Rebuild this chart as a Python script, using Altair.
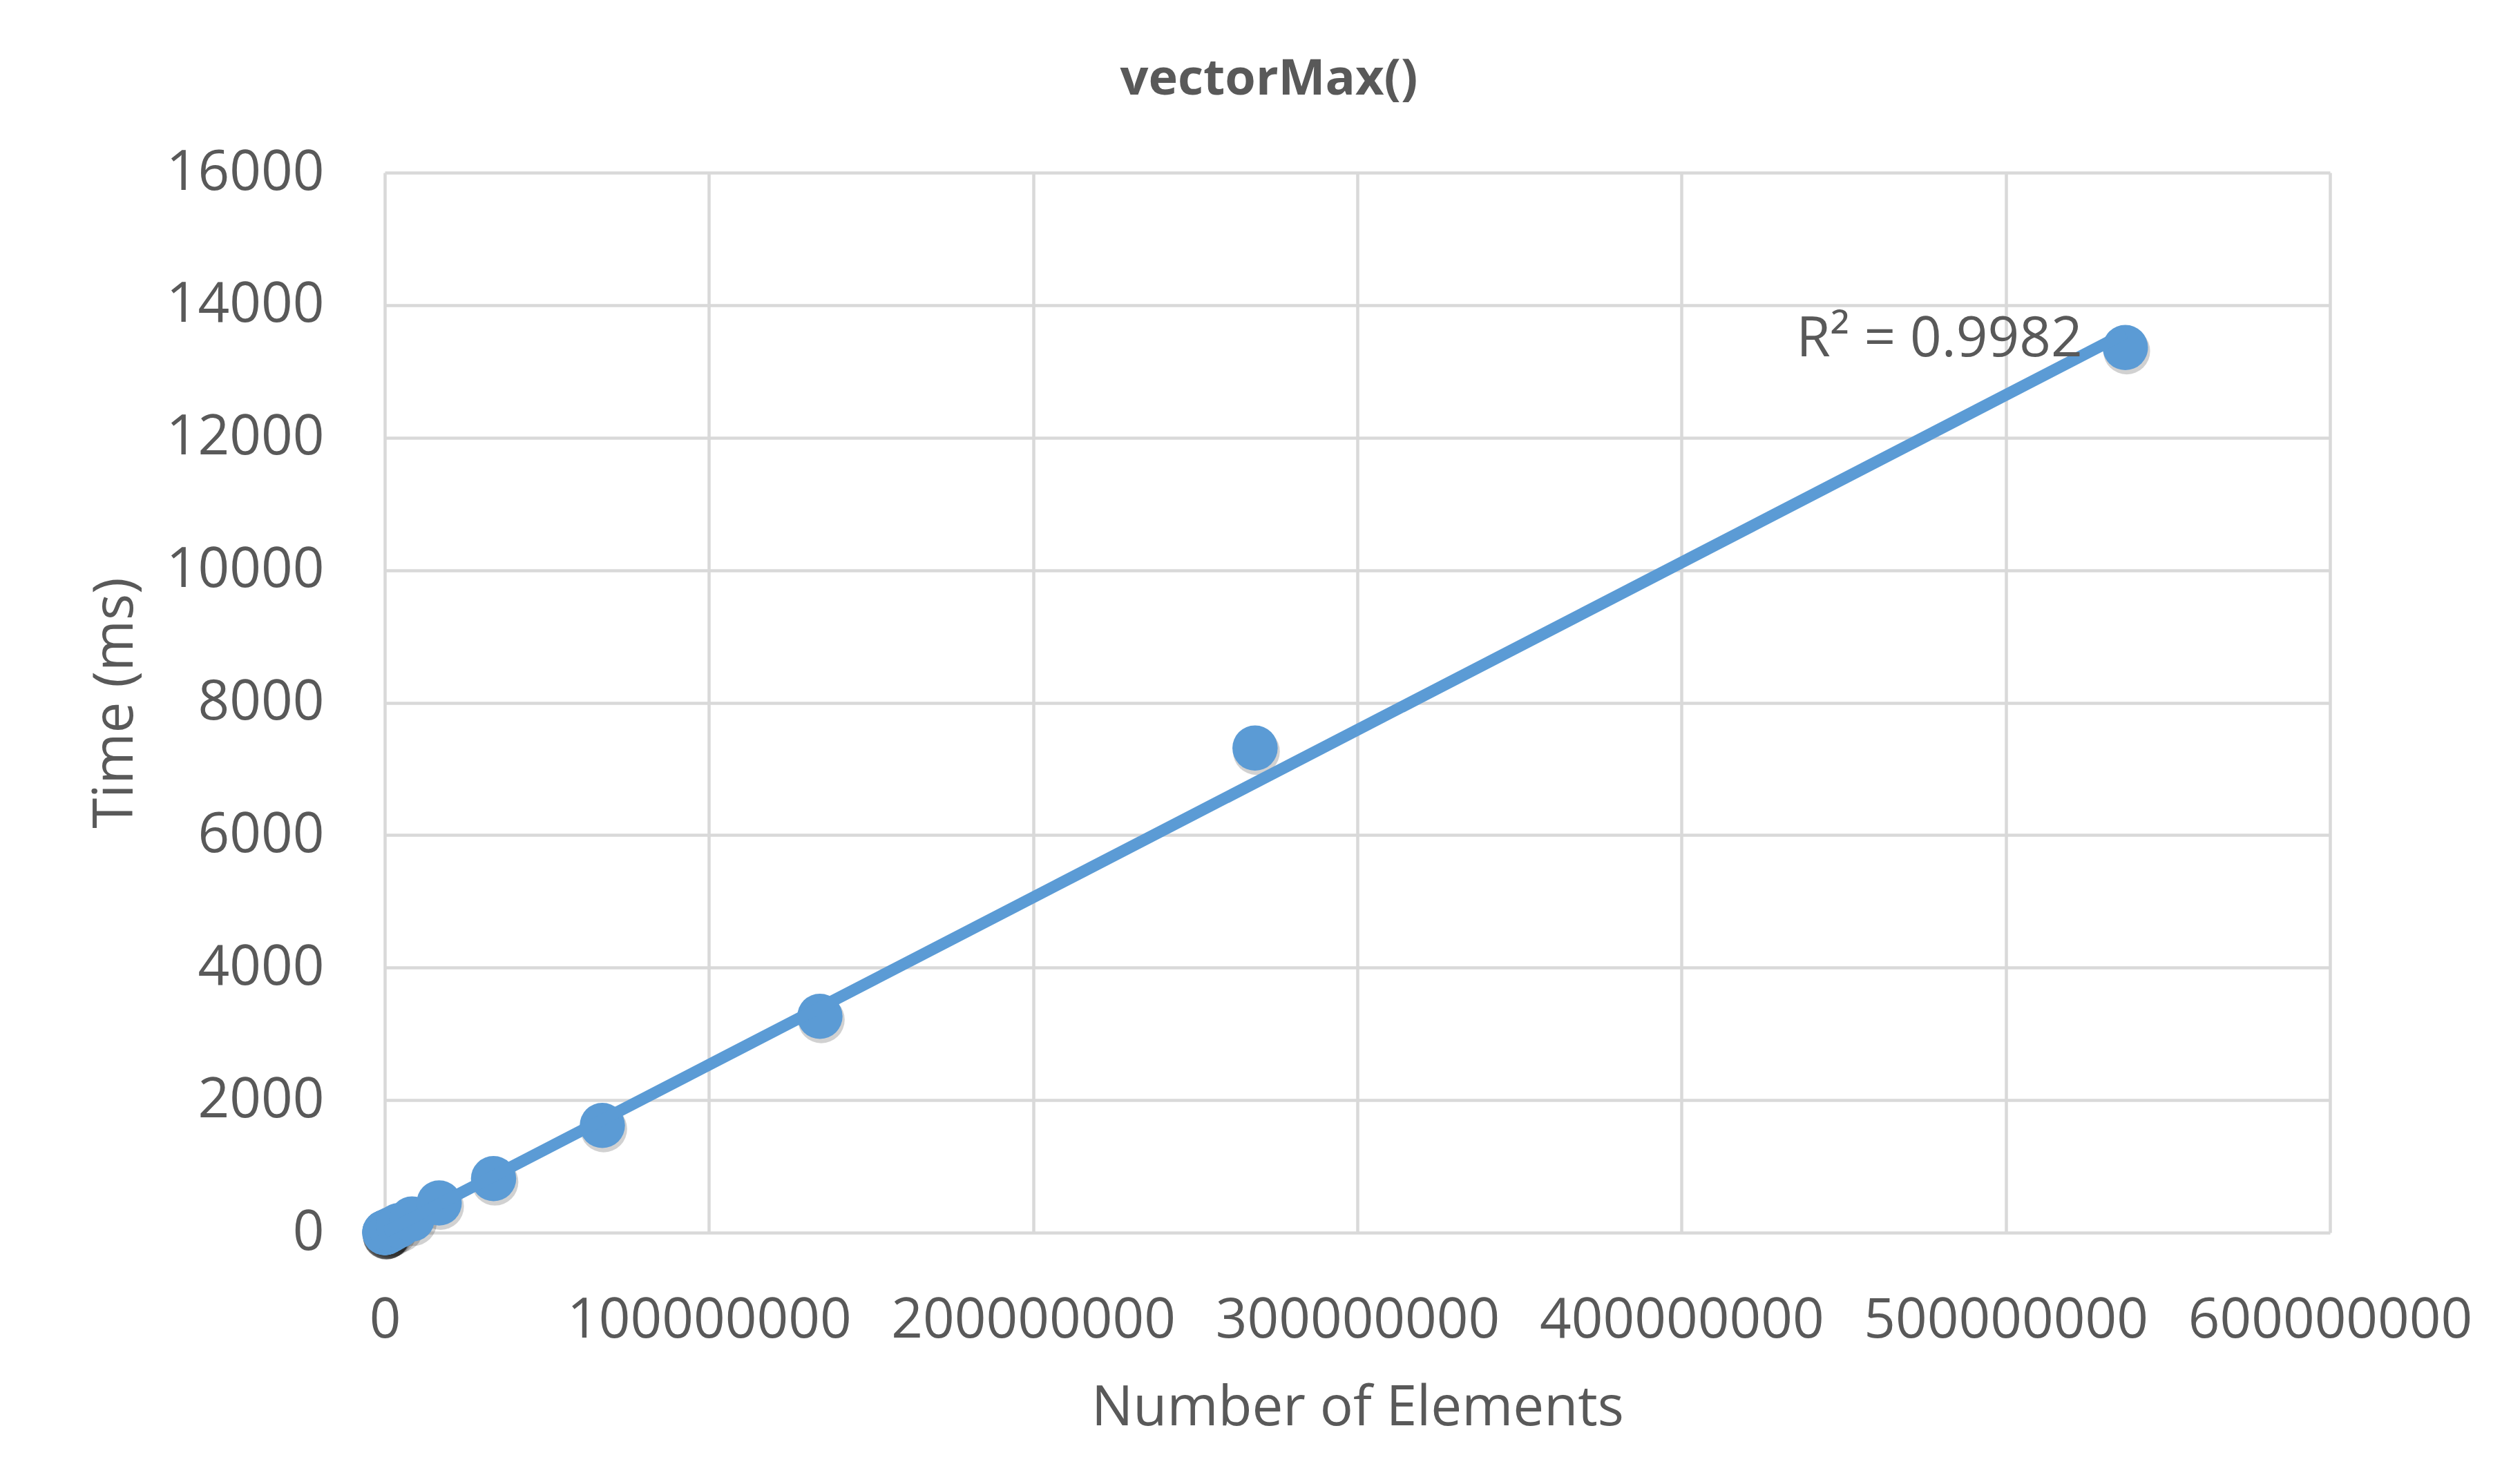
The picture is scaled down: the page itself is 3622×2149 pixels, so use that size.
import altair as alt
import pandas as pd

# Data (estimated)
elements = [16384, 32768, 65536, 131072, 262144, 524288, 1048576, 2097152,
            4194304, 8388608, 16777216, 33554432, 67108864, 134217728,
            268435456, 536870912]
time_ms = [0, 1, 2, 3, 7, 13, 26, 52, 105, 205, 448, 815, 1618, 3265, 7315, 13360]

chart_title = "vectorMax()"
x_title = "Number of Elements"
y_title = "Time (ms)"
r2_label = "R² = 0.9982"
x_ticks = [0, 100000000, 200000000, 300000000, 400000000, 500000000, 600000000]
y_ticks = [0, 2000, 4000, 6000, 8000, 10000, 12000, 14000, 16000]

df = pd.DataFrame({"n": elements, "t": time_ms})
last = df.iloc[[-1]].assign(label=r2_label)

FONT = "Open Sans"
GRAY = "#595959"
BLUE = "#5B9BD5"

x_enc = alt.X("n:Q", title=x_title,
              scale=alt.Scale(domain=[0, 600000000], nice=False),
              axis=alt.Axis(values=x_ticks, format="d", labelPadding=88, titleY=278,
                            titleBaseline="alphabetic"))
y_enc = alt.Y("t:Q", title=y_title,
              scale=alt.Scale(domain=[0, 16000], nice=False),
              axis=alt.Axis(values=y_ticks, format="d",
                            labelPadding=88, titleX=-366, titleBaseline="alphabetic",
                            titleAngle=270, titleAlign="center"))

base = alt.Chart(df)

shadow = base.mark_circle(color="#000000", opacity=0.18, size=4600).encode(
    x=x_enc, y=y_enc, yOffset=alt.value(5), xOffset=alt.value(2))

points = base.mark_circle(color=BLUE, opacity=1, size=4300).encode(x=x_enc, y=y_enc)

trend = base.transform_regression("n", "t", method="linear").mark_line(
    color=BLUE, strokeWidth=17, strokeCap="butt").encode(x="n:Q", y="t:Q")

label = alt.Chart(last).mark_text(
    font=FONT, fontSize=80, color=GRAY, align="right", baseline="middle",
    dx=-62, dy=-11).encode(x="n:Q", y="t:Q", text="label:N")

chart = alt.layer(shadow, points, trend, label).properties(
    width=2816, height=1535,
    title=alt.TitleParams(chart_title, font=FONT, fontSize=72, fontWeight="bold",
                          color=GRAY, anchor="middle", dx=-128, offset=1,
                          baseline="alphabetic"),
    padding={"left": 549, "top": 242, "right": 241, "bottom": 356},
    autosize=alt.AutoSizeParams(type="none"),
    background="white",
).configure_view(stroke=None).configure_axis(
    domain=False, ticks=False, grid=True, gridColor="#d9d9d9", gridWidth=4.5,
    labelFont=FONT, labelFontSize=80, labelColor=GRAY, labelLimit=0,
    labelOverlap=False, labelFlush=False,
    titleFont=FONT, titleFontSize=80, titleColor=GRAY, titleFontWeight="normal",
)

chart.save("out.html", embed_options={"renderer": "svg", "actions": False})
